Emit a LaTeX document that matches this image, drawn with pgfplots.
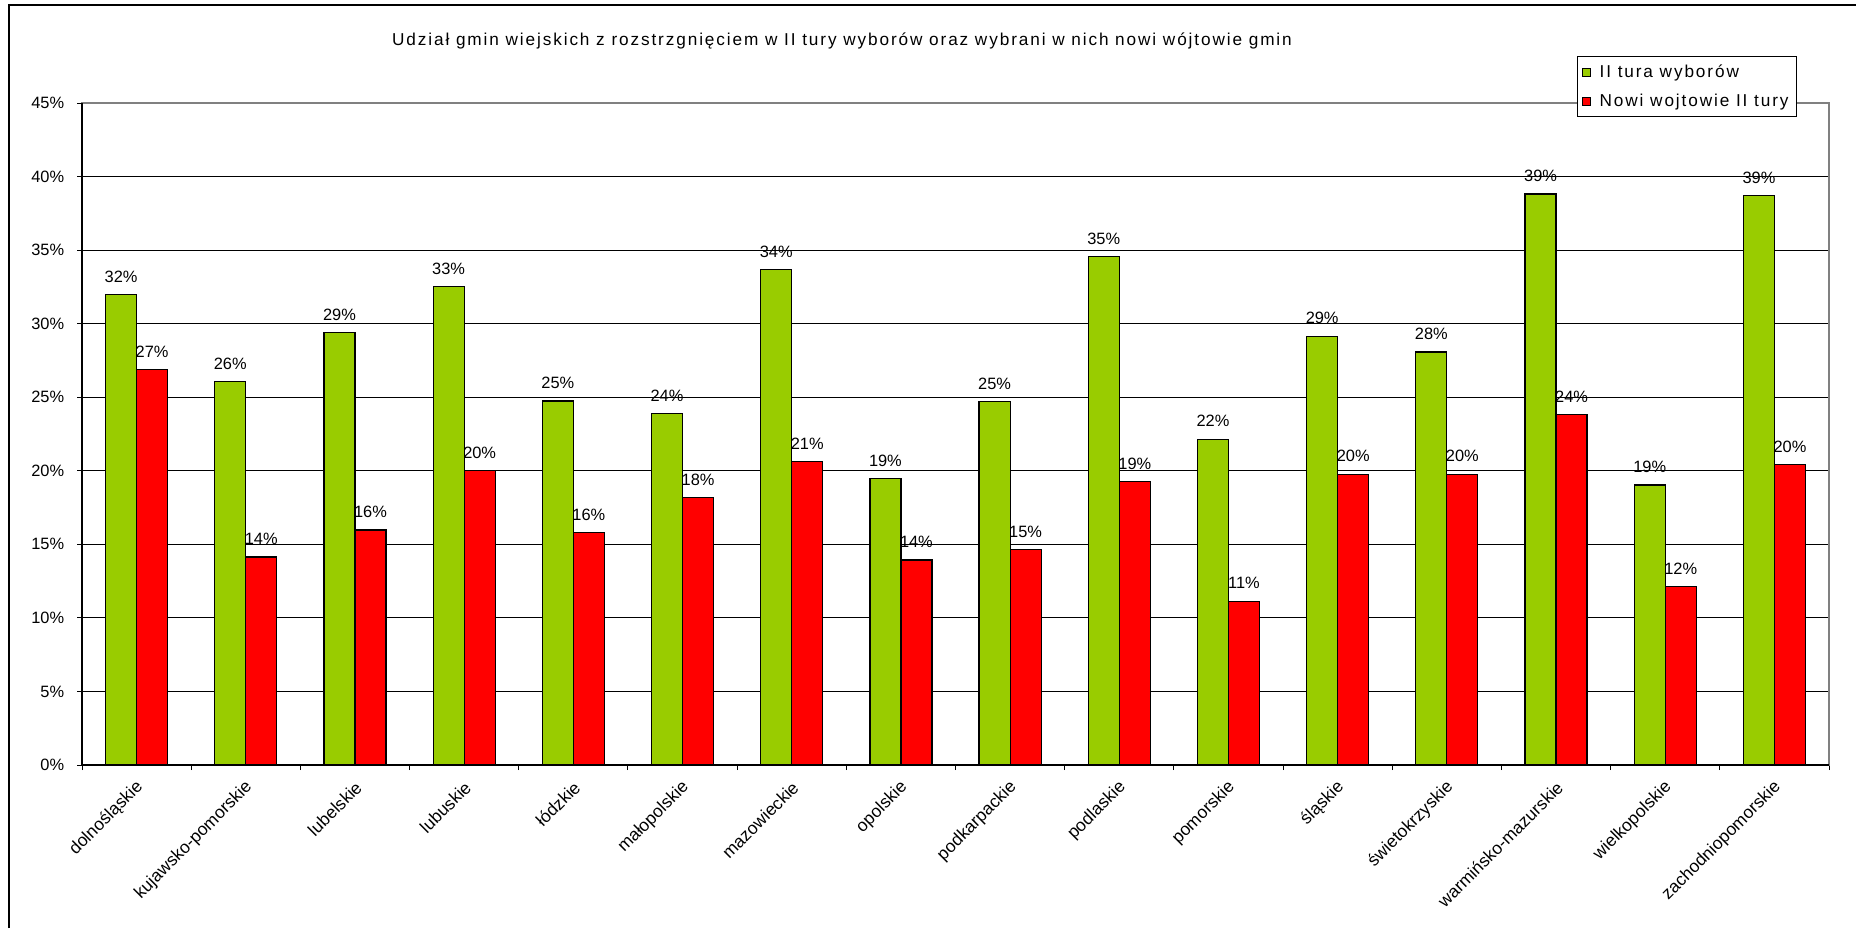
\documentclass[border=0pt]{standalone}
\usepackage{fontspec}
\setmainfont{Liberation Sans}
\newfontfamily\spaced[LetterSpace=11]{Liberation Sans}
\usepackage{pgfplots}
\pgfplotsset{compat=1.18}
\definecolor{barGreen}{HTML}{99CC00}
\definecolor{barRed}{HTML}{FF0000}
\begin{document}
\fontsize{8.2}{10}\selectfont
\begin{tikzpicture}
\path[use as bounding box] (0,0) rectangle (928pt,464pt);
\draw[black, line width=0.6pt] (4.5pt,0) -- (4.5pt,461.5pt) -- (928pt,461.5pt);
\node[anchor=center, font=\spaced\fontsize{8.6}{10}\selectfont] at (421pt,443.5pt) {Udział gmin wiejskich z rozstrzgnięciem w II tury wyborów oraz wybrani w nich nowi wójtowie gmin};
\begin{axis}[
  at={(41pt,81.5pt)}, anchor=south west, scale only axis,
  width=873.5pt, height=331pt,
  ymin=0, ymax=45, xmin=-0.5, xmax=15.5,
  ybar=0pt, bar width=0.284,
  ytick={0,5,...,45},
  /pgf/number format/assume math mode=true,
  yticklabel={\pgfmathprintnumber{\tick}\%},
  yticklabel style={xshift=-3.5pt},
  ymajorgrids, grid style={black, line width=0.5pt},
  xtick={0,...,15},
  xticklabels={dolnośląskie, kujawsko-pomorskie, lubelskie, lubuskie, łódzkie, małopolskie, mazowieckie, opolskie, podkarpackie, podlaskie, pomorskie, śląskie, świetokrzyskie, warmińsko-mazurskie, wielkopolskie, zachodniopomorskie},
  xticklabel style={rotate=45, anchor=east, yshift=-6.5pt, xshift=-1pt, font=\fontsize{8.7}{10}\selectfont},
  minor xtick={-0.5,0.5,...,15.5},
  tick align=outside,
  major tick length=2.5pt, minor tick length=2.5pt,
  major x tick style={draw=none},
  tick style={black, line width=0.5pt},
  ytick pos=left, xtick pos=bottom,
  axis line style={black!50, line width=0.6pt},
  nodes near coords={\pgfmathprintnumber[fixed,precision=0]{\pgfplotspointmeta}\%},
  every node near coord/.append style={yshift=3pt, black},
  legend image code/.code={\draw[#1, line width=0.5pt] (0pt,-2pt) rectangle (4pt,2pt); \path (6.5pt,0pt);},
  legend style={at={(0.9817,1.071)}, anchor=north east, draw=black, line width=0.5pt,
    inner xsep=2pt, inner ysep=2pt, row sep=3pt, cells={anchor=west},
    font=\spaced\fontsize{8.6}{10}\selectfont},
  after end axis/.code={\draw[black, line width=0.6pt] (rel axis cs:0,1) -- (rel axis cs:0,0) -- (rel axis cs:1,0);},
]
\addplot[fill=barGreen, draw=black, line width=0.6pt] coordinates {
  (0,32.0) (1,26.07) (2,29.38) (3,32.52) (4,24.75) (5,23.9) (6,33.7) (7,19.45)
  (8,24.7) (9,34.57) (10,22.15) (11,29.15) (12,28.08) (13,38.81) (14,19.04) (15,38.72)
};
\addplot[fill=barRed, draw=black, line width=0.6pt] coordinates {
  (0,26.9) (1,14.14) (2,15.97) (3,20.0) (4,15.82) (5,18.17) (6,20.64) (7,13.93)
  (8,14.66) (9,19.25) (10,11.14) (11,19.77) (12,19.77) (13,23.81) (14,12.12) (15,20.41)
};
\legend{II tura wyborów, Nowi wojtowie II tury}
\end{axis}
\end{tikzpicture}
\end{document}
